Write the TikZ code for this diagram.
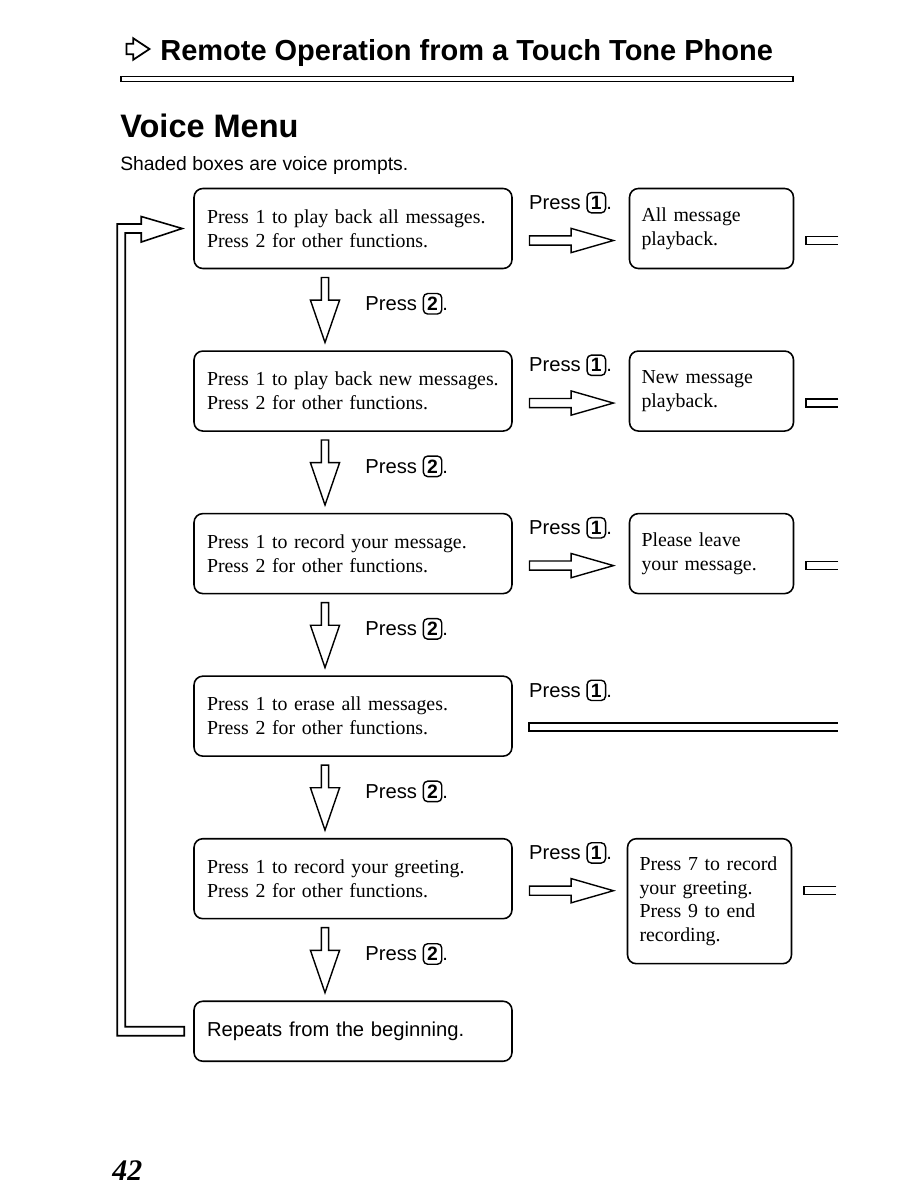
\documentclass[tikz,border=0pt]{standalone}
\usepackage{fontspec}
\setmainfont{Liberation Serif}
\setsansfont{Liberation Sans}
\usepackage{tikz}
\usetikzlibrary{positioning,shapes.arrows,calc}

\newcommand{\keycap}[1]{\tikz[baseline=(k.base)]\node[draw=black, line width=0.8pt, rounded corners=2.5pt, inner xsep=2.2pt, inner ysep=2pt, font=\sffamily\bfseries\fontsize{11}{11}\selectfont] (k) {#1};}

\begin{document}
\begin{tikzpicture}[
  x=0.02cm, y=-0.02cm,
  node distance=1.62cm,
  prompt/.style={rectangle, draw=black, line width=0.9pt, rounded corners=5pt, align=left, text width=5.84cm, inner xsep=0.26cm, minimum height=1.6cm, font=\fontsize{11.3}{13.6}\selectfont},
  result/.style={rectangle, draw=black, line width=0.9pt, rounded corners=5pt, align=left, text width=2.8cm, inner xsep=0.24cm, minimum height=1.6cm, font=\fontsize{11.3}{13.6}\selectfont},
  presslbl/.style={inner sep=0pt, anchor=west, font=\sffamily\fontsize{11.5}{13}\selectfont},
  rarrow/.style={single arrow, draw=black, line width=0.8pt, inner sep=2.2pt, minimum height=1.68cm, single arrow head extend=4.3pt, single arrow tip angle=32, anchor=tail},
  darrow/.style={single arrow, shape border rotate=270, draw=black, line width=0.8pt, inner sep=1.7pt, minimum height=1.3cm, single arrow head extend=6.2pt, single arrow tip angle=38, anchor=tail},
  stub/.style={draw=black, line width=0.9pt}
]
\useasboundingbox (0,0) rectangle (918,1188);

% header
\node[single arrow, draw=black, line width=1pt, inner sep=2.5pt, minimum height=0.46cm, single arrow head extend=3.1pt, single arrow tip angle=67] (icon) at (134,49) {};
\node[anchor=base west, inner sep=0pt, font=\sffamily\bfseries\fontsize{16.5}{18}\selectfont] (title) at (160,60) {Remote Operation from a Touch Tone Phone};
\draw[line width=1pt] (121,76.5) rectangle (793,81.5);
\node[anchor=base west, inner sep=0pt, font=\sffamily\bfseries\fontsize{18.5}{20}\selectfont] (menu) at (120,137) {Voice Menu};
\node[anchor=base west, inner sep=0pt, font=\sffamily\fontsize{11}{13}\selectfont] (intro) at (120,170) {Shaded boxes are voice prompts.};

% voice prompts
\node[prompt] (p1) at (353,228.5) {Press 1 to play back all messages.\\Press 2 for other functions.};
\node[prompt, below=of p1] (p2) {Press 1 to play back new messages.\\Press 2 for other functions.};
\node[prompt, below=of p2] (p3) {Press 1 to record your message.\\Press 2 for other functions.};
\node[prompt, below=of p3] (p4) {Press 1 to erase all messages.\\Press 2 for other functions.};
\node[prompt, below=of p4] (p5) {Press 1 to record your greeting.\\Press 2 for other functions.};
\node[prompt, below=of p5, minimum height=1.2cm, font=\sffamily\fontsize{11.5}{13}\selectfont] (rep) {Repeats from the beginning.};

% results
\node[result, right=2.32cm of p1] (r1) {All message\\playback.};
\node[result, right=2.32cm of p2] (r2) {New message\\playback.};
\node[result, right=2.32cm of p3] (r3) {Please leave\\your message.};
\node[result, minimum height=2.5cm, anchor=north west] (r5) at ([xshift=2.28cm]p5.north east) {Press 7 to record\\your greeting.\\Press 9 to end\\recording.};

% press 1
\foreach \i in {1,...,5}{
  \node[presslbl] (one\i) at ([xshift=0.32cm,yshift=-0.3cm]p\i.north east) {Press \keycap{1}.};
}
\foreach \i in {1,2,3,5}{
  \node[rarrow] (a\i) at ([xshift=0.32cm,yshift=-0.24cm]p\i.east) {};
  \coordinate (s\i) at (r\i.east |- a\i.tail);
  \draw[stub] ([shift={(44,-4)}]s\i) -- ++(-32,0) -- ++(0,8) -- ++(32,0);
}
\coordinate (s4) at ([yshift=-0.22cm]p4.east);
\draw[stub] ([shift={(325,-4)}]s4) -- ++(-309,0) -- ++(0,8) -- ++(309,0);

% press 2
\foreach \i in {1,...,5}{
  \node[darrow] (d\i) at ([xshift=-0.56cm,yshift=-0.15cm]p\i.south) {};
  \node[presslbl] (two\i) at ([xshift=0.8cm,yshift=-0.54cm]d\i.tail) {Press \keycap{2}.};
}

% back to the beginning
\coordinate (looptip) at ([xshift=-0.22cm]p1.west);
\coordinate (loopcap) at ([xshift=-0.18cm]rep.west);
\coordinate (loopin) at ([xshift=-1.14cm]looptip);
\coordinate (loopout) at ([xshift=-1.3cm]looptip);
\coordinate (loopcorner) at (loopout |- loopcap);
\draw[stub] ([yshift=0.09cm]loopcap) -| ([yshift=-0.09cm]loopin) -- ++(16,0) -- ++(0,9)
  -- (looptip) -- ++(-41,-12) -- ++(0,7.5) -| ([yshift=-0.09cm]loopcorner)
  -- ([yshift=-0.09cm]loopcap) -- cycle;

\node[anchor=base west, inner sep=0pt, font=\bfseries\itshape\fontsize{17}{18}\selectfont] (page) at (112,1180) {42};
\end{tikzpicture}
\end{document}
